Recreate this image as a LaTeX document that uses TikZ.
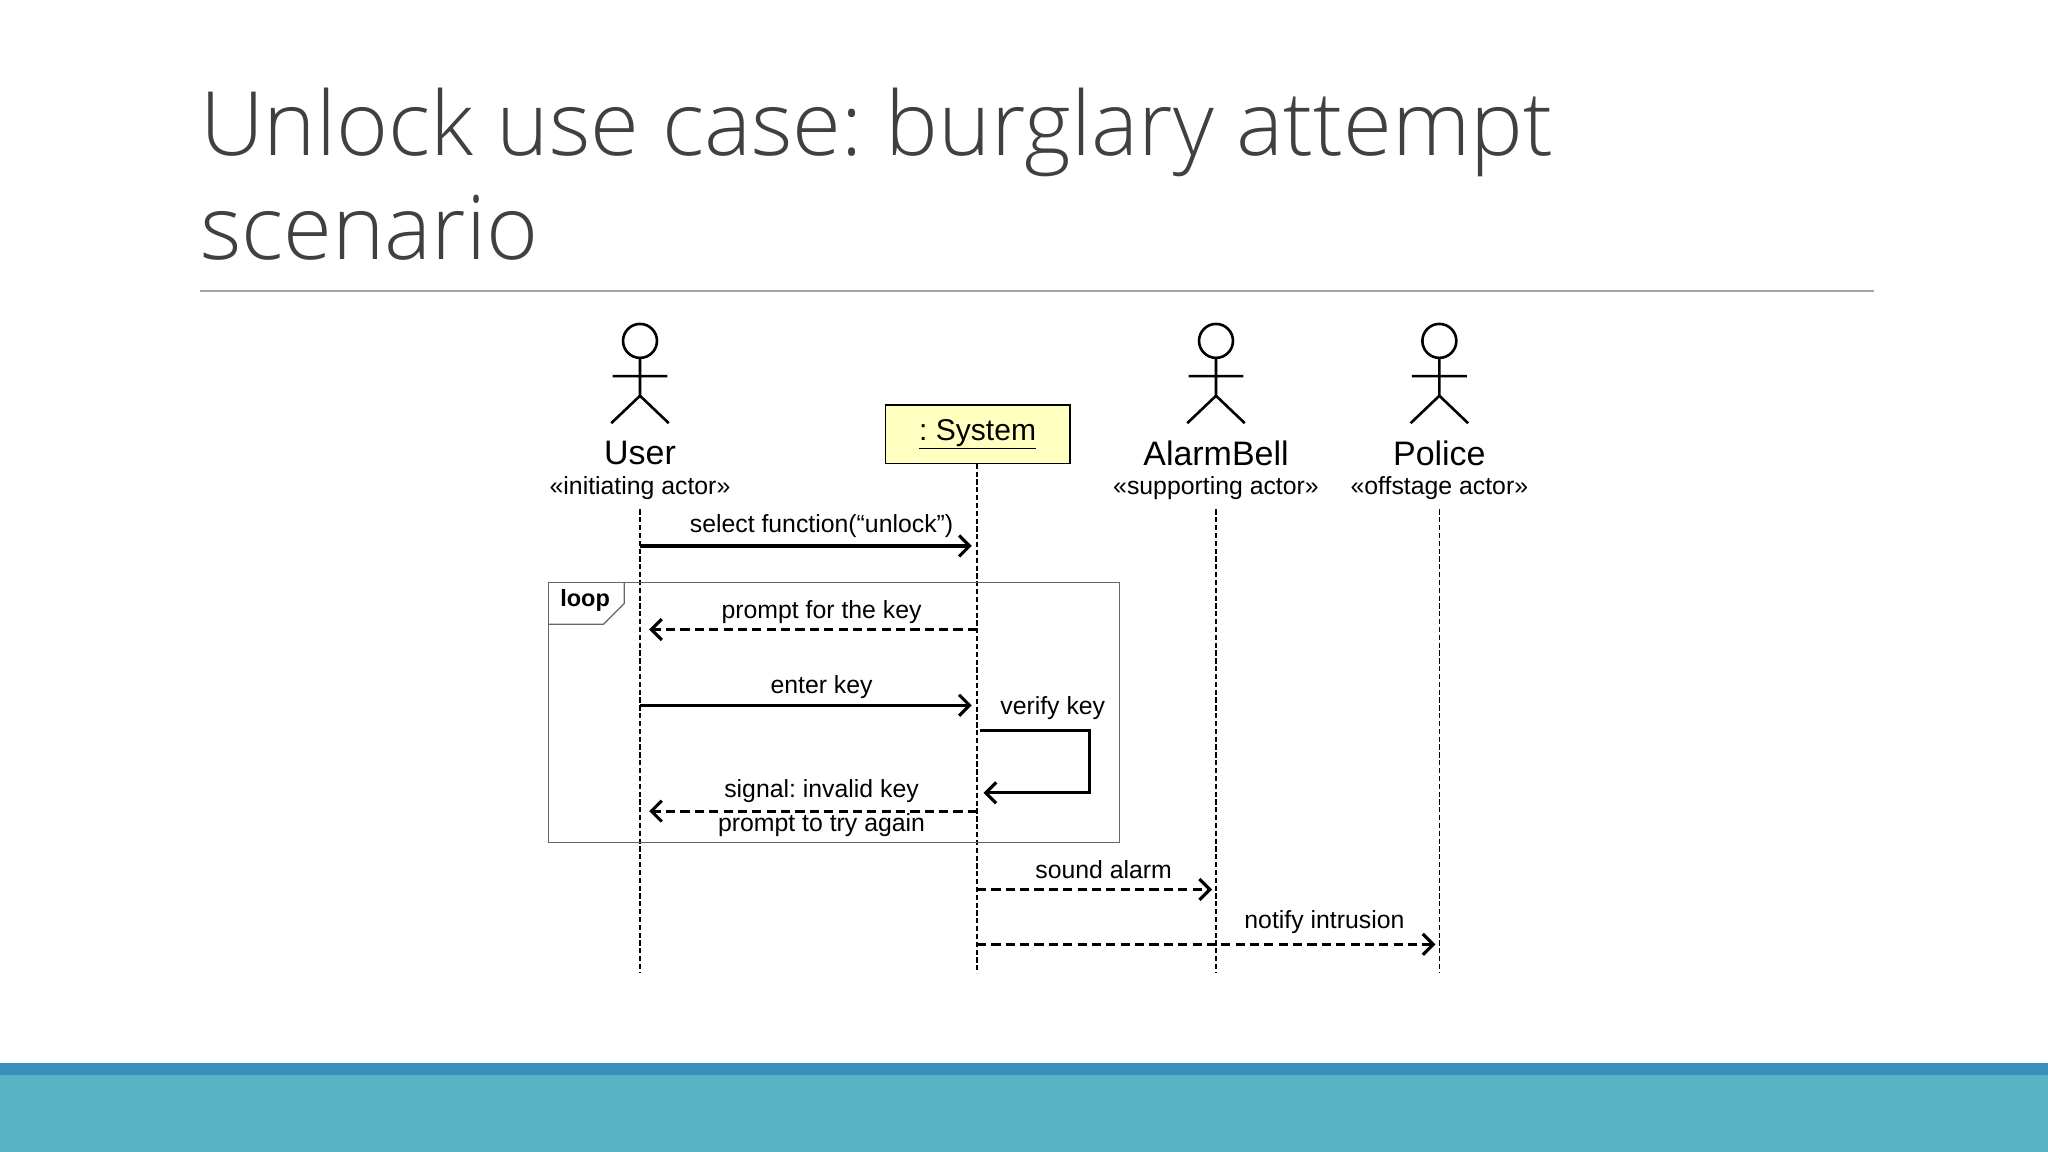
\documentclass[tikz,border=0pt]{standalone}
\usepackage{fontspec}
\setmainfont{Liberation Sans}
\newfontfamily\titlefont{Open Sans Light}
\usetikzlibrary{arrows.meta}
\frenchspacing
\definecolor{bandA}{HTML}{3A8EBE}
\definecolor{bandB}{HTML}{5AB4C5}
\definecolor{sysfill}{HTML}{FFFFC0}
\definecolor{titlegray}{HTML}{404040}
\tikzset{
  msg/.style={line width=2.4pt,-{Straight Barb[length=8pt,width=16pt,line width=2.4pt]}},
  ret/.style={msg,dash pattern=on 7pt off 4pt},
  life/.style={line width=1pt,dash pattern=on 4pt off 2pt},
  lbl/.style={font=\fontsize{19}{21}\selectfont,inner sep=0pt},
  actname/.style={font=\fontsize{26}{28}\selectfont,inner sep=0pt},
  stereo/.style={font=\fontsize{19}{21}\selectfont,inner sep=0pt},
}
\newcommand{\stick}[1]{%
  \draw[line width=2pt] (#1,261) circle (13);
  \draw[line width=2pt] (#1,274) -- (#1,303) (#1-21,288) -- (#1+21,288)
     (#1-22,324) -- (#1,303) -- (#1+22,324);}
\begin{document}
\begin{tikzpicture}[x=1pt,y=-1pt]
\useasboundingbox (0,0) rectangle (1568,882);
\fill[white] (0,0) rectangle (1568,882);
\fill[bandA] (0,814) rectangle (1568,823);
\fill[bandB] (0,823) rectangle (1568,882);
\node[anchor=base west,inner sep=0pt,text=titlegray,font=\titlefont\fontsize{68}{74}\selectfont] (title) at (153,119) {Unlock use case: burglary attempt};
\node[anchor=base west,inner sep=0pt,text=titlegray,font=\titlefont\fontsize{68}{74}\selectfont] (title2) at (153,199) {scenario};
\draw[gray!70,line width=1.2pt] (153,223) -- (1435,223);
% actors
\stick{490}
\stick{931}
\stick{1102}
\node[actname] (user) at (490,347) {User};
\node[stereo] (userst) at (490,374) {«initiating actor»};
\node[actname] (bell) at (931,347) {AlarmBell};
\node[stereo] (bellst) at (931,374) {«supporting actor»};
\node[actname] (police) at (1102,347) {Police};
\node[stereo] (policest) at (1102,374) {«offstage actor»};
\node[draw,line width=1.2pt,fill=sysfill,minimum width=141pt,minimum height=45pt,font=\fontsize{23}{25}\selectfont] (sys) at (748.5,332.5) {\underline{: System}};
% lifelines
\coordinate (uT) at (490,390); \coordinate (uB) at (490,745);
\coordinate (sT) at (748,355); \coordinate (sB) at (748,745);
\coordinate (aT) at (931,390); \coordinate (aB) at (931,745);
\coordinate (pT) at (1102,390); \coordinate (pB) at (1102,745);
\draw[life] (uT) -- (uB); \draw[life] (sT) -- (sB);
\draw[life] (aT) -- (aB); \draw[life] (pT) -- (pB);
% loop frame
\draw[line width=1pt,gray!80!black] (420,446) rectangle (857,645);
\draw[line width=1pt,gray!80!black] (420,478) -- (462,478) -- (478,462) -- (478,446);
\node[font=\bfseries\fontsize{18}{20}\selectfont,inner sep=0pt] (looplbl) at (448,460) {loop};
% messages
\coordinate (m1a) at (490,418); \coordinate (m1b) at (744,418);
\draw[msg] (m1a) -- (m1b);
\node[lbl] (l1) at (629,403) {select function(“unlock”)};
\coordinate (m2a) at (748,482); \coordinate (m2b) at (497,482);
\draw[ret] (m2a) -- (m2b);
\node[lbl] (l2) at (629,469) {prompt for the key};
\coordinate (m3a) at (490,540); \coordinate (m3b) at (744,540);
\draw[msg] (m3a) -- (m3b);
\node[lbl] (l3) at (629,526) {enter key};
\coordinate (v1) at (750,559); \coordinate (v2) at (834,559);
\coordinate (v3) at (834,607); \coordinate (v4) at (753,607);
\draw[msg] (v1) -- (v2) -- (v3) -- (v4);
\node[lbl] (l4) at (806,542) {verify key};
\coordinate (m5a) at (748,621); \coordinate (m5b) at (497,621);
\draw[ret] (m5a) -- (m5b);
\node[lbl] (l5) at (629,606) {signal: invalid key};
\node[lbl] (l5b) at (629,632) {prompt to try again};
\coordinate (m6a) at (748,681); \coordinate (m6b) at (928,681);
\draw[ret] (m6a) -- (m6b);
\node[lbl] (l6) at (845,666) {sound alarm};
\coordinate (m7a) at (748,723); \coordinate (m7b) at (1099,723);
\draw[ret] (m7a) -- (m7b);
\node[lbl] (l7) at (1014,706) {notify intrusion};
\end{tikzpicture}
\end{document}
